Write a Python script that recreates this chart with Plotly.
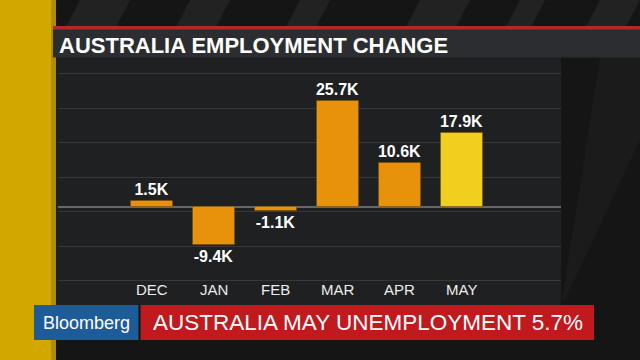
import plotly.graph_objects as go

# ---- data ----
months = ["DEC", "JAN", "FEB", "MAR", "APR", "MAY"]
change_k = [1.5, -9.4, -1.1, 25.7, 10.6, 17.9]
title_text = "AUSTRALIA EMPLOYMENT CHANGE"
banner_text = "AUSTRALIA MAY UNEMPLOYMENT 5.7%"
brand_text = "Bloomberg"

W, H = 640, 360


def px(x):
    return x / W


def py(y):
    return 1 - y / H


ORANGE = "#e8910b"
YELLOW = "#f0cf1f"
bar_colors = [YELLOW if i == len(months) - 1 else ORANGE for i in range(len(months))]

fig = go.Figure()
fig.add_trace(go.Bar(
    x=list(range(len(months))),
    y=change_k,
    width=0.68,
    marker=dict(color=bar_colors, line=dict(color="rgba(120,70,0,0.5)", width=1)),
    texttemplate="%{y:.1f}K",
    textposition="outside",
    constraintext="none",
    cliponaxis=False,
    textfont=dict(family="Liberation Sans, Arial, sans-serif", size=16, color="#ffffff", weight="bold"),
    hoverinfo="skip",
))

shapes = []
# background diagonal stripes (decorative)
stripes = [(80, 130), (190, 230), (300, 330), (420, 470), (520, 545), (600, 640)]
for a, b in stripes:
    shapes.append(dict(type="path", xref="paper", yref="paper", layer="below",
                       path=f"M {px(a)} {py(0)} L {px(b)} {py(0)} L {px(b-14)} {py(27)} L {px(a-14)} {py(27)} Z",
                       fillcolor="#222222", line=dict(width=0)))
# right side subtle band
shapes.append(dict(type="path", xref="paper", yref="paper", layer="below",
                   path=f"M {px(600)} {py(57)} L {px(640)} {py(57)} L {px(640)} {py(140)} L {px(565)} {py(300)} L {px(562)} {py(300)} Z",
                   fillcolor="#1b1b1b", line=dict(width=0)))
# yellow strip
shapes.append(dict(type="rect", xref="paper", yref="paper", layer="below",
                   x0=px(0), x1=px(55), y0=py(360), y1=py(0),
                   fillcolor="#d2a700", line=dict(width=0)))
shapes.append(dict(type="rect", xref="paper", yref="paper", layer="below",
                   x0=px(51), x1=px(56), y0=py(360), y1=py(0),
                   fillcolor="#b08c00", line=dict(width=0)))
# chart panel
shapes.append(dict(type="rect", xref="paper", yref="paper", layer="below",
                   x0=px(56), x1=px(561), y0=py(305), y1=py(57),
                   fillcolor="#1f2022", line=dict(width=0)))
# title bar + red rule
shapes.append(dict(type="rect", xref="paper", yref="paper", layer="above",
                   x0=px(53), x1=px(640), y0=py(57.5), y1=py(29),
                   fillcolor="#2b2d30", line=dict(width=0)))
shapes.append(dict(type="rect", xref="paper", yref="paper", layer="above",
                   x0=px(53), x1=px(640), y0=py(29.5), y1=py(26),
                   fillcolor="#b3272a", line=dict(width=0)))
# bottom banner
shapes.append(dict(type="rect", xref="paper", yref="paper", layer="above",
                   x0=px(34), x1=px(138.5), y0=py(340), y1=py(305),
                   fillcolor="#1e5b99", line=dict(width=0)))
shapes.append(dict(type="rect", xref="paper", yref="paper", layer="above",
                   x0=px(140.5), x1=px(594), y0=py(340), y1=py(305),
                   fillcolor="#c0191e", line=dict(width=0)))

annotations = [
    dict(text=title_text, xref="paper", yref="paper", x=px(56.5), y=py(45),
         xanchor="left", yanchor="middle", showarrow=False,
         font=dict(family="Liberation Sans, Arial, sans-serif", size=22, color="#ffffff", weight="bold")),
    dict(text=brand_text, xref="paper", yref="paper", x=px(86.5), y=py(323),
         xanchor="center", yanchor="middle", showarrow=False,
         font=dict(family="Liberation Sans, Arial, sans-serif", size=18, color="#ffffff")),
    dict(text=banner_text, xref="paper", yref="paper", x=px(367.5), y=py(322.5),
         xanchor="center", yanchor="middle", showarrow=False,
         font=dict(family="Liberation Sans, Arial, sans-serif", size=22.5, color="#ffffff")),
]
for i, m in enumerate(months):
    annotations.append(dict(text=m, xref="x", yref="paper", x=i, y=py(289.5),
                            xanchor="center", yanchor="middle", showarrow=False,
                            font=dict(family="Liberation Sans, Arial, sans-serif", size=15, color="#ececec")))

fig.update_layout(
    width=W, height=H,
    margin=dict(l=0, r=0, t=0, b=0),
    paper_bgcolor="#151515",
    plot_bgcolor="rgba(0,0,0,0)",
    showlegend=False,
    shapes=shapes,
    annotations=annotations,
    bargap=0,
    xaxis=dict(domain=[px(58), px(561)], range=[-1.511, 6.60],
               showgrid=False, zeroline=False, showticklabels=False,
               showline=False, fixedrange=True),
    yaxis=dict(domain=[py(305), py(58)], range=[-23.98, 36.27],
               tickmode="linear", tick0=-1.2, dtick=8.4,
               showgrid=True, gridcolor="#37383b", gridwidth=1,
               zeroline=True, zerolinecolor="#66676a", zerolinewidth=2,
               showticklabels=False, showline=False, fixedrange=True),
)

fig.write_html("out.html", config={"displayModeBar": False},
               post_script="document.body.style.margin='0';document.body.style.overflow='hidden';document.body.style.background='#151515';")
